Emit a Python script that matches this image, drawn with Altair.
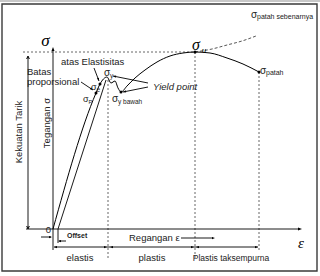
import math
import altair as alt
import pandas as pd

# ---- schematic stress-strain curve (strain eps, stress sig; arbitrary units) ----
curve_eps = [0, 43, 47, 54, 58, 62, 65, 68, 74, 82, 92, 104, 117, 130, 142, 157, 174, 190, 206]
curve_sig = [0, 136, 145, 152, 146, 148, 141, 137, 143, 151, 159, 167, 173, 176, 177, 176, 171, 165, 157]

# 0.2% offset line, parallel to the elastic part
offset_eps = [5, 53]
offset_sig = [0, 149]

# true fracture stress branch (dashed)
true_eps = [142, 159, 174, 189, 203]
true_sig = [177, 180, 184, 188, 193]

# marked points: proportional limit, elastic limit, lower yield, ultimate, fracture
point_names = ["p", "e", "y bawah", "u", "patah"]
point_eps = [43, 47, 68, 142, 206]
point_sig = [136, 145, 137, 177, 157]

XS = alt.Scale(domain=[-53, 267], nice=False, zero=False)
YS = alt.Scale(domain=[-47, 229], nice=False, zero=False)


def X(f="x"):
    return alt.X(f"{f}:Q", scale=XS, axis=None)


def Y(f="y"):
    return alt.Y(f"{f}:Q", scale=YS, axis=None)


def rules(segs, **kw):
    df = pd.DataFrame(segs, columns=["x", "y", "x2", "y2"])
    return alt.Chart(df).mark_rule(**kw).encode(
        x=X(), y=Y(), x2=alt.X2("x2:Q"), y2=alt.Y2("y2:Q"))


def heads(rows, path, size, filled=True):
    df = pd.DataFrame(rows, columns=["x", "y", "ang"])
    return alt.Chart(df).mark_point(
        shape=path, filled=filled, size=size, color="black", opacity=1,
        strokeWidth=1).encode(
        x=X(), y=Y(), angle=alt.Angle("ang:Q", scale=None))


def texts(rows, **kw):
    df = pd.DataFrame(rows, columns=["x", "y", "t", "s"])
    return alt.Chart(df).mark_text(**kw).encode(
        x=X(), y=Y(), text="t:N", size=alt.Size("s:Q", scale=None))


def direction(x1, y1, x2, y2):
    return math.degrees(math.atan2(-(y2 - y1), x2 - x1)) % 360


ARROW = "M0,0L-2,-0.75L-2,0.75Z"
OPEN = "M-2,-0.9L0,0L-2,0.9"

# frame
frame = alt.Chart(pd.DataFrame({"x": [-51], "x2": [264], "y": [-42], "y2": [225]})).mark_rect(
    filled=False, stroke="#3a3a3a", strokeWidth=1.4).encode(
    x=X(), x2="x2:Q", y=Y(), y2="y2:Q")
topband = rules([(-53, 228, 267, 228)], color="#c8c8c8", strokeWidth=2)

# reference lines
dotted = rules([
    (55, 149, 55, -29),
    (142, 177, 142, -29),
    (206, 157, 206, -21),
    (-30, 177, 142, 177),
], color="#555555", strokeWidth=0.9, strokeDash=[2, 2])

# pointer arrows from annotations
pointers = [
    (41, 161, 46, 148),
    (28, 147, 40, 139),
    (95, 146, 60, 153),
    (95, 142, 70, 137),
]

solid = rules([
    (-27, 0, 246, 0),          # strain axis
    (0, -21, 0, 179),          # stress axis
    (-25, 1, -25, 172),        # tensile strength span
    (5, 0, 5, -14),            # offset start tick
    (-12, -8, -2, -8),         # offset arrow
    (13, -12, 6, -12),
    (128, -9, 160, -9),        # strain arrow
    (1, -18, 205, -18),        # region arrows
] + pointers, color="black", strokeWidth=0.9)

offset_line = alt.Chart(pd.DataFrame({"x": offset_eps, "y": offset_sig})).mark_line(
    color="black", strokeWidth=0.9).encode(x=X(), y=Y())

curve = alt.Chart(pd.DataFrame({"x": curve_eps, "y": curve_sig, "o": range(len(curve_eps))})).mark_line(
    color="black", strokeWidth=1, interpolate="monotone").encode(x=X(), y=Y(), order="o:Q")

true_line = alt.Chart(pd.DataFrame({"x": true_eps, "y": true_sig})).mark_line(
    color="#444444", strokeWidth=0.9, strokeDash=[3, 2], interpolate="monotone").encode(x=X(), y=Y())

dots = alt.Chart(pd.DataFrame({"x": point_eps, "y": point_sig, "n": point_names})).mark_circle(
    color="black", size=9, opacity=1).encode(x=X(), y=Y())

filled_heads = heads(
    [(-1, -8, 0), (5, -12, 180), (162, -9, 0),
     (1, -18, 180), (54, -18, 0), (57, -18, 180), (141, -18, 0),
     (143, -18, 180), (205, -18, 0)]
    + [(x2, y2, direction(x1, y1, x2, y2)) for x1, y1, x2, y2 in pointers],
    ARROW, 9)
axis_heads = heads([(249, 0, 0), (0, 182, 270)], ARROW, 16)
open_heads = heads([(-25, 173, 270), (-25, 0, 90)], OPEN, 9, filled=False)

SANS = "Liberation Sans"
SERIF = "Liberation Serif"

sans_left = texts([
    (8, 167, "atas Elastisitas", 9.5),
    (-26, 157, "Batas", 9.5),
    (-26, 147, "proporsional", 9.5),
    (76, -9, "Regangan ε", 9.5),
    (51, 156.5, "σ", 10), (57, 153.5, "y", 6.5),
    (38, 142, "σ", 9), (43.5, 139, "e", 6.5),
    (30, 130, "σ", 9), (35.5, 127, "P", 5.5),
    (59, 130, "σ", 10), (65, 127, "y bawah", 6.5),
    (207, 158, "σ", 10), (213, 156, "patah", 7),
    (198, 214, "σ", 10), (204, 212, "patah sebenarnya", 7),
], font=SANS, align="left", baseline="middle", color="#222222")

sans_center = texts([
    (27, -29, "elastis", 9.5),
    (99, -29, "plastis", 9.5),
    (178, -29, "Plastis taksempurna", 8.5),
], font=SANS, align="center", baseline="middle", color="#222222")

rotated = texts([
    (-34.5, 97, "Kekuatan Tarik", 9.5),
    (-6.5, 106, "Tegangan σ", 9.5),
], font=SANS, align="center", baseline="middle", angle=270, color="#222222")

yield_label = texts([(100, 142, "Yield point", 9.5)],
                    font=SANS, fontStyle="italic", align="left", baseline="middle", color="#222222")

serif = texts([
    (-7.5, 188, "σ", 17),
    (143, 184, "σ", 16),
    (151, 179, "u", 9),
    (248, -14, "ε", 15),
], font=SERIF, fontStyle="italic", align="center", baseline="middle", color="black")

zero = texts([(-2, -1, "0", 9.5)], font=SANS, align="right", baseline="middle", color="#222222")
offset_lbl = texts([(14, -7, "Offset", 7)], font=SANS, fontWeight="bold",
                   align="left", baseline="middle", color="#222222")

chart = alt.layer(
    topband, frame, dotted, solid, offset_line, true_line, curve, dots,
    filled_heads, axis_heads, open_heads,
    sans_left, sans_center, rotated, yield_label, serif, zero, offset_lbl,
).properties(width=320, height=276, padding=0, autosize="none").configure_view(stroke=None)

chart.save("out.html", embed_options={"renderer": "svg", "actions": False})
